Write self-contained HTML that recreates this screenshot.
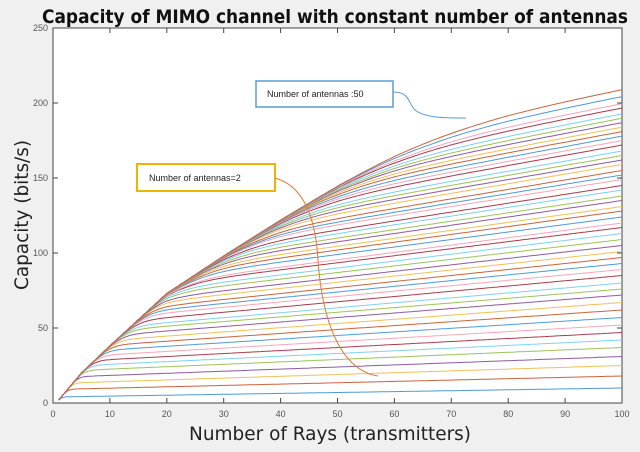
<!DOCTYPE html>
<html><head><meta charset="utf-8"><style>
html,body{margin:0;padding:0;background:#f0f0f0;}
body{width:640px;height:447px;overflow:hidden;font-family:"Liberation Sans","DejaVu Sans",sans-serif;}
</style></head><body>
<svg id="chart" width="640" height="447" xmlns="http://www.w3.org/2000/svg">
<rect width="640" height="447" fill="#f0f0f0"/>
<text x="335" y="23" text-anchor="middle" font-size="19" font-weight="bold" fill="#111" textLength="586" lengthAdjust="spacingAndGlyphs" font-family="DejaVu Sans, sans-serif">Capacity of MIMO channel with constant number of antennas</text>
<rect x="53" y="28" width="569" height="375" fill="#fff" stroke="#444" stroke-width="1"/>
<g id="lines"></g>
<g id="axes"></g>
<text x="330" y="440" text-anchor="middle" font-size="19" fill="#222" textLength="282" lengthAdjust="spacingAndGlyphs" font-family="DejaVu Sans, sans-serif">Number of Rays (transmitters)</text>
<text transform="translate(28,215) rotate(-90)" text-anchor="middle" font-size="19" fill="#222" textLength="150" lengthAdjust="spacingAndGlyphs" font-family="DejaVu Sans, sans-serif">Capacity (bits/s)</text>
<g>
<rect x="256" y="81" width="137" height="26" fill="#fff" stroke="#5b9bd5" stroke-width="1.5"/>
<text x="267" y="97" font-size="9" fill="#222">Number of antennas :50</text>
<path d="M393,92 C410,92 408,103 415,110 C425,118 445,118 466,118" fill="none" stroke="#5b9bd5" stroke-width="1"/>
</g>
<g>
<rect x="137" y="164" width="138" height="27" fill="#fff" stroke="#f0b400" stroke-width="2"/>
<text x="149" y="181" font-size="9" fill="#222">Number of antennas=2</text>
<path d="M275,178 C300,185 315,210 318,260 C322,320 340,370 378,376" fill="none" stroke="#e07b39" stroke-width="1"/>
</g>
</svg>
<script>
// Shared envelope (x -> capacity)
const envX = [1, 5, 10, 20, 30, 40, 50, 60, 70, 80, 90, 100];
const envY = [2, 20, 38, 73, 98, 122, 145, 167, 188, 208, 226, 243];
// Capacity at x=100 for antennas 1..50
const endValues = [10,18,25,31,37,42,47,52,57,62,67,72,76,80,85,89,93,97,101,105,109,113,117,120,124,128,131,135,138,142,145,149,152,155,159,162,165,168,172,175,178,181,184,187,190,193,197,200,205,210];
// Tail slope (capacity per ray) near x=100 for antennas 1..50
const tailSlopes = [0.06,0.09,0.12,0.14,0.16,0.18,0.2,0.22,0.24,0.26,0.28,0.3,0.31,0.33,0.35,0.36,0.38,0.4,0.41,0.43,0.44,0.46,0.47,0.49,0.5,0.52,0.53,0.55,0.56,0.58,0.59,0.6,0.62,0.63,0.64,0.65,0.66,0.67,0.68,0.69,0.7,0.7,0.71,0.71,0.72,0.72,0.72,0.72,0.72,0.72];
const xTicks = [0,10,20,30,40,50,60,70,80,90,100];
const yTicks = [0,50,100,150,200,250];
const colors = ['#4e9ad4','#c8643b','#eec15a','#8e5a9e','#9cc25a','#7fd0ee','#a83a4a','#f4a6b8'];

const X0=53, X1=622, Y0=403, Y1=28;
function xs(v){return X0+(v/100)*(X1-X0);}
function ys(v){return Y0-(v/250)*(Y0-Y1);}
function env(x){
  for(let i=0;i<envX.length-1;i++){
    if(x<=envX[i+1]){const t=(x-envX[i])/(envX[i+1]-envX[i]);return envY[i]+t*(envY[i+1]-envY[i]);}
  }
  return envY[envY.length-1];
}
const NS='http://www.w3.org/2000/svg';
const lines=document.getElementById('lines');
for(let n=0;n<endValues.length;n++){
  let d='';
  for(let x=1;x<=100;x+=0.5){
    const a=env(x), b=endValues[n]-tailSlopes[n]*(100-x);
    const m=Math.min(a,b);
    const k=0.06*Math.max(m,1)+1;
    let v=m-k*Math.log(Math.exp(-(a-m)/k)+Math.exp(-(b-m)/k));
    v=Math.max(v, 1.5);
    d+=(x===1?'M':'L')+xs(x).toFixed(1)+','+ys(v).toFixed(1);
  }
  const p=document.createElementNS(NS,'path');
  p.setAttribute('d',d);
  p.setAttribute('fill','none');
  p.setAttribute('stroke',colors[n%colors.length]);
  p.setAttribute('stroke-width','1');
  
  
  lines.appendChild(p);
}
const axes=document.getElementById('axes');
xTicks.forEach(t=>{
  const x=xs(t);
  [[Y0,Y0-5],[Y1,Y1+5]].forEach(([a,b])=>{
    const l=document.createElementNS(NS,'line');
    l.setAttribute('x1',x);l.setAttribute('x2',x);l.setAttribute('y1',a);l.setAttribute('y2',b);
    l.setAttribute('stroke','#444');
    
    
    axes.appendChild(l);
  });
  const tx=document.createElementNS(NS,'text');
  tx.setAttribute('x',x);tx.setAttribute('y',Y0+14);
  tx.setAttribute('text-anchor','middle');tx.setAttribute('font-size','9');tx.setAttribute('fill','#555');
  tx.textContent=t;
  
  
  axes.appendChild(tx);
});
yTicks.forEach(t=>{
  const y=ys(t);
  [[X0,X0+5],[X1,X1-5]].forEach(([a,b])=>{
    const l=document.createElementNS(NS,'line');
    l.setAttribute('x1',a);l.setAttribute('x2',b);l.setAttribute('y1',y);l.setAttribute('y2',y);
    l.setAttribute('stroke','#444');
    
    
    axes.appendChild(l);
  });
  const tx=document.createElementNS(NS,'text');
  tx.setAttribute('x',X0-5);tx.setAttribute('y',y+3);
  tx.setAttribute('text-anchor','end');tx.setAttribute('font-size','9');tx.setAttribute('fill','#555');
  tx.textContent=t;
  
  
  axes.appendChild(tx);
});
</script>
</body></html>
